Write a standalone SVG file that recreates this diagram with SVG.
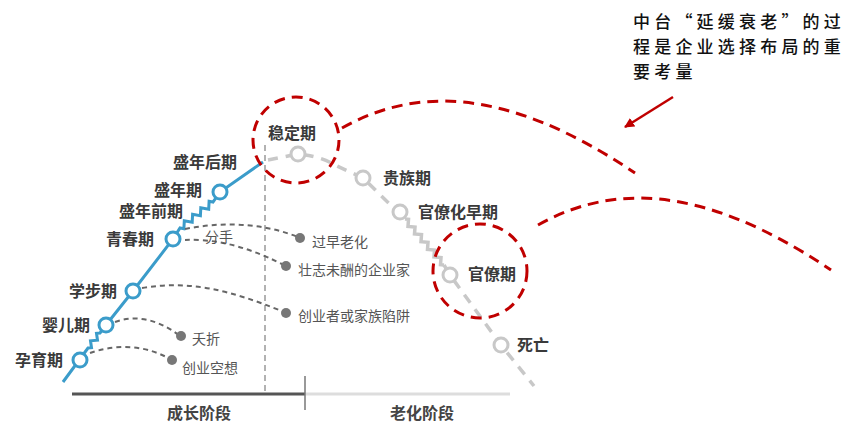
<svg xmlns="http://www.w3.org/2000/svg" width="863" height="435" viewBox="0 0 863 435">
<style>
.lbl{font-family:"Noto Sans CJK SC","Noto Sans",sans-serif;font-size:16px;font-weight:bold;fill:#3a3a3a}
.ax{font-family:"Noto Sans CJK SC","Noto Sans",sans-serif;font-size:16px;font-weight:bold;fill:#444}
.sml{font-family:"Noto Sans CJK SC","Noto Sans",sans-serif;font-size:14px;fill:#555}
.note{font-family:"Noto Sans CJK SC","Noto Sans",sans-serif;font-size:17px;font-weight:500;fill:#111;letter-spacing:4.2px}
.blue{fill:none;stroke:#3b9cca;stroke-width:3}
.bnode{fill:#fff;stroke:#3b9cca;stroke-width:3}
.gpath{fill:none;stroke:#c8c8c8;stroke-width:3.5}
.gdash{stroke-dasharray:10 8}
.gnode{fill:#fff;stroke:#c8c8c8;stroke-width:3}
.ddash{fill:none;stroke:#666;stroke-width:2;stroke-dasharray:5 4}
.dot{fill:#777}
.red{fill:none;stroke:#c00000;stroke-width:3;stroke-dasharray:11 7}
</style>
<defs>
<marker id="ah" viewBox="0 0 10 10" refX="9" refY="5" markerWidth="4" markerHeight="4" orient="auto">
<path d="M0,0 L10,5 L0,10 z" fill="#c00000"/>
</marker>
<path id="wave" d="M342,128 C410,90 500,82 635,173"/>
</defs>

<g id="connectors">
<line x1="265" y1="145" x2="265" y2="392" stroke="#999" stroke-width="1.5" stroke-dasharray="6 4"/>
<line x1="72" y1="394" x2="305" y2="394" stroke="#555" stroke-width="3"/>
<line x1="305" y1="394" x2="510" y2="394" stroke="#ddd" stroke-width="3"/>
<line x1="305" y1="376" x2="305" y2="410" stroke="#777" stroke-width="1.5"/>
<path class="blue" d="M63,382 L88,348 L91.5,347.7 L90.5,340.8 L97.5,340.2 L96.5,333.3 L100,333 L106,325 L133,291 L173,239 L180,228 L183.9,228.7 L184.3,220.8 L192.2,222.2 L192.6,214.3 L200.4,215.7 L200.8,207.8 L208.7,209.2 L209.1,201.3 L213,202 L220,192 L263,162"/>
<path class="gpath gdash" d="M268,160 L298,154 Q320,156 335,165 L363,178 L405,219"/>
<path class="gpath" stroke-width="2.5" d="M405,219 L408.5,219.3 L408,226.4 L415,227 L414.5,234 L421.5,234.6 L421,241.7 L428,242.3 L427.5,249.4 L434.5,250 L434,257 L441,257.6 L440.5,264.7 L444,265"/>
<path class="gpath gdash" d="M444,265 L450,275 L501,345 L534,386"/>
<path class="ddash" d="M90,353 C110,346 140,342 170,359"/>
<path class="ddash" d="M115,322 C135,315 155,318 179,335"/>
<path class="ddash" d="M142,288 C190,280 230,290 284,312"/>
<path class="ddash" d="M185,229 C220,222 260,222 298,237"/>
<path class="ddash" d="M185,240 C210,239 240,243 284,265"/>
<use href="#wave" class="red"/>
<use href="#wave" class="red" transform="translate(196,97)"/>
<line x1="673" y1="97" x2="625" y2="127" stroke="#c00000" stroke-width="2.5" marker-end="url(#ah)"/>
</g>

<g id="n-yunyu"><circle class="bnode" cx="80" cy="360" r="7"/><text class="lbl" x="63" y="366" text-anchor="end">孕育期</text></g>
<g id="n-yinger"><circle class="bnode" cx="106" cy="325" r="7"/><text class="lbl" x="90" y="331" text-anchor="end">婴儿期</text></g>
<g id="n-xuebu"><circle class="bnode" cx="133" cy="291" r="7"/><text class="lbl" x="117" y="297" text-anchor="end">学步期</text></g>
<g id="n-qingchun"><circle class="bnode" cx="173" cy="239" r="7"/><text class="lbl" x="154" y="245" text-anchor="end">青春期</text></g>
<g id="n-shengnianqian"><text class="lbl" x="183" y="217" text-anchor="end">盛年前期</text></g>
<g id="n-shengnian"><circle class="bnode" cx="220" cy="192" r="7"/><text class="lbl" x="202" y="196" text-anchor="end">盛年期</text></g>
<g id="n-shengnianhou"><text class="lbl" x="237" y="168" text-anchor="end">盛年后期</text></g>

<g id="n-wending"><circle class="gnode" cx="298" cy="154" r="7"/><text class="lbl" x="268" y="139">稳定期</text><circle class="red" cx="296" cy="140" r="43"/></g>
<g id="n-guizu"><circle class="gnode" cx="363" cy="178" r="7"/><text class="lbl" x="383" y="184">贵族期</text></g>
<g id="n-guanliaohuazao"><circle class="gnode" cx="400" cy="212" r="7"/><text class="lbl" x="418" y="218">官僚化早期</text></g>
<g id="n-guanliao"><circle class="gnode" cx="450" cy="275" r="7"/><text class="lbl" x="468" y="280">官僚期</text><circle class="red" cx="480" cy="271" r="47"/></g>
<g id="n-siwang"><circle class="gnode" cx="501" cy="345" r="7"/><text class="lbl" x="517" y="351">死亡</text></g>

<g id="o-kongxiang"><circle class="dot" cx="172" cy="360" r="5"/><text class="sml" x="182" y="373">创业空想</text></g>
<g id="o-yaozhe"><circle class="dot" cx="181" cy="336" r="5"/><text class="sml" x="192" y="344">夭折</text></g>
<g id="o-xianjing"><circle class="dot" cx="286" cy="313" r="5"/><text class="sml" x="298" y="321">创业者或家族陷阱</text></g>
<g id="o-zaolao"><circle class="dot" cx="300" cy="238" r="5"/><text class="sml" x="312" y="247">过早老化</text></g>
<g id="o-zhuangzhi"><circle class="dot" cx="286" cy="266" r="5"/><text class="sml" x="298" y="275">壮志未酬的企业家</text></g>
<g id="o-fenshou"><text class="sml" x="205" y="242">分手</text></g>

<g id="axis-labels">
<text class="ax" x="167" y="419">成长阶段</text>
<text class="ax" x="390" y="419">老化阶段</text>
</g>

<g id="note">
<text class="note" x="633" y="28">中台“延缓衰老”的过</text>
<text class="note" x="633" y="53">程是企业选择布局的重</text>
<text class="note" x="633" y="78">要考量</text>
</g>
</svg>
